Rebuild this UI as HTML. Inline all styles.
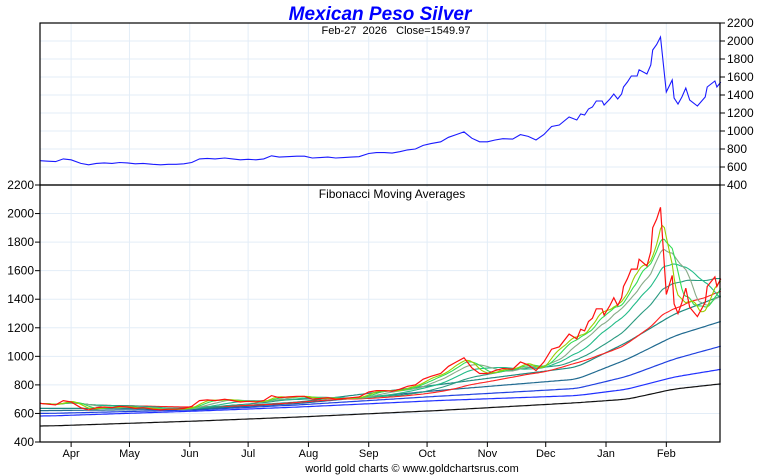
<!DOCTYPE html>
<html><head><meta charset="utf-8">
<style>
html,body{margin:0;padding:0;background:#fff;}
svg{display:block;font-family:"Liberation Sans",sans-serif;}
</style></head>
<body>
<svg id="chart" width="760" height="475" viewBox="0 0 760 475">
  <text x="380" y="20" text-anchor="middle" font-size="19" font-weight="bold" font-style="italic" fill="#0000ff">Mexican Peso Silver</text>
  <g id="grid"></g>
  <g id="series"></g>
  <g id="axes"></g>
  <rect x="318" y="24" width="156" height="12" fill="#fff"/>
  <text x="396" y="34" text-anchor="middle" font-size="11" fill="#000" xml:space="preserve">Feb-27  2026   Close=1549.97</text>
  <rect x="314" y="187" width="158" height="14" fill="#fff"/>
  <text x="392" y="198" text-anchor="middle" font-size="12" fill="#000">Fibonacci Moving Averages</text>
  <text x="412" y="472" text-anchor="middle" font-size="11" fill="#000">world gold charts © www.goldchartsrus.com</text>
</svg>
<script>
// ---- data ----
const priceDays = [0,4,8,12,16,21,25,29,33,37,41,45,49,53,58,62,66,70,74,78,82,86,90,95,99,103,107,111,115,119,123,127,132,136,140,144,148,152,156,160,164,169,173,177,181,185,189,193,197,201,206,210,214,218,222,226,230,234,238,243,247,251,255,259,263,267,272,276,278,280,282,284,286,289,290,293,295,297,299,300,302,304,307,308,312,314,315,317,319,322,325,326,328,330,332,334,338,342,343,347,348,350];
const priceValues = [670,665,660,690,680,640,625,640,645,640,650,645,635,640,630,625,630,630,635,650,690,695,690,700,690,680,685,680,690,725,710,715,720,720,700,705,710,700,705,710,715,750,760,760,755,770,790,800,840,860,880,930,960,990,920,880,880,900,915,910,960,940,900,960,1050,1067,1156,1122,1189,1178,1244,1267,1333,1333,1289,1356,1411,1356,1411,1489,1544,1611,1611,1680,1633,1733,1900,1960,2044,1433,1567,1367,1300,1378,1478,1344,1278,1378,1489,1556,1489,1544];
const fastWindows = [7,11,18,29,48,77];
const fastColors = ["#9acd00","#33dd55","#88aa88","#22bb88","#2a9a80","#ff2020"];
const slowDays = [0,77,129,200,272,298,322,350];
const slowTeal = [635,635,680,800,925,1100,1296,1443];
const slowDarkTeal = [620,630,670,760,840,980,1142,1261];
const slowBlue1 = [600,625,660,720,775,860,981,1086];
const slowBlue2 = [582,617,645,690,725,770,855,918];
const slowBlack = [512,547,575,620,675,700,771,813];
const monthLabels = ["Apr","May","Jun","Jul","Aug","Sep","Oct","Nov","Dec","Jan","Feb"];
const monthDays = [16,46,77,107,138,169,199,230,260,291,322];
const yTicks = [400,600,800,1000,1200,1400,1600,1800,2000,2200];

// ---- scales ----
const X0=40, X1=720, D1=349.6;
const x = d => X0 + d*(X1-X0)/D1;
const yTop = v => 185 - (v-400)*(185-23)/1800;
const yBot = v => 442 - (v-400)*(442-185)/1800;
const NS="http://www.w3.org/2000/svg";
function mk(tag, attrs, parent){const e=document.createElementNS(NS,tag);for(const k in attrs)e.setAttribute(k,attrs[k]);parent.appendChild(e);return e;}
const grid=document.getElementById('grid'), series=document.getElementById('series'), axes=document.getElementById('axes');

monthDays.forEach(d=>{
  const g=mk('line',{x1:x(d),x2:x(d),y1:23,y2:442,stroke:'#e3edf7','stroke-width':1},grid);
  
  
});
yTicks.forEach(v=>{
  const a=mk('line',{x1:X0,x2:X1,y1:yTop(v),y2:yTop(v),stroke:'#e3edf7','stroke-width':1},grid);
  
  
  const b=mk('line',{x1:X0,x2:X1,y1:yBot(v),y2:yBot(v),stroke:'#e3edf7','stroke-width':1},grid);
  
  
});

function interp(days, vals){
  const out=[];
  for(let d=0; d<=days[days.length-1]; d++){
    let i=0; while(i<days.length-2 && days[i+1]<d) i++;
    const t=(d-days[i])/(days[i+1]-days[i]);
    out.push(vals[i]+(vals[i+1]-vals[i])*Math.max(0,Math.min(1,t)));
  }
  return out;
}
function sma(arr,w){
  return arr.map((_,i)=>{let s=0,n=0;for(let j=Math.max(0,i-w+1);j<=i;j++){s+=arr[j];n++;}return s/n;});
}
const daily = interp(priceDays, priceValues);
function pathDaily(arr, yf){return arr.map((v,i)=>(i?'L':'M')+x(i).toFixed(1)+','+yf(v).toFixed(1)).join(' ');}
function pathPts(days, vals, yf){return days.map((d,i)=>(i?'L':'M')+x(d).toFixed(1)+','+yf(vals[i]).toFixed(1)).join(' ');}

const slowSets=[[slowBlack,'#111','ma-610-black'],[slowBlue2,'#2030ff','ma-377-blue'],[slowBlue1,'#2040e0','ma-233-blue'],[slowDarkTeal,'#206a90','ma-144-dark-teal'],[slowTeal,'#1f8a80','ma-89-teal']];
slowSets.forEach(s=>{
  const p=mk('path',{d:pathDaily(sma(interp(slowDays,s[0]),9),yBot),fill:'none',stroke:s[1],'stroke-width':1.2},series);
  
  
});
for(let k=fastWindows.length-1;k>=0;k--){
  const p=mk('path',{d:pathDaily(sma(daily,fastWindows[k]),yBot),fill:'none',stroke:fastColors[k],'stroke-width':1.1},series);
  
  
}
const pl=mk('path',{d:pathPts(priceDays,priceValues,yBot),fill:'none',stroke:'#ff1010','stroke-width':1.2},series);


const pu=mk('path',{d:pathPts(priceDays,priceValues,yTop),fill:'none',stroke:'#1a1aff','stroke-width':1.1},series);



const f1=mk('rect',{x:X0,y:23,width:X1-X0,height:162,fill:'none',stroke:'#000','stroke-width':1.2},axes);


const f2=mk('rect',{x:X0,y:185,width:X1-X0,height:257,fill:'none',stroke:'#000','stroke-width':1.2},axes);



yTicks.forEach(v=>{
  mk('line',{x1:X1,x2:X1+5,y1:yTop(v),y2:yTop(v),stroke:'#000'},axes);
  const t=mk('text',{x:X1+7,y:yTop(v)+4,'font-size':12,fill:'#000'},axes);
  t.textContent=v;
  
  
  mk('line',{x1:X0-5,x2:X0,y1:yBot(v),y2:yBot(v),stroke:'#000'},axes);
  const u=mk('text',{x:X0-6,y:yBot(v)+4,'font-size':12,fill:'#000','text-anchor':'end'},axes);
  u.textContent=v;
  
  
});
monthDays.forEach((d,i)=>{
  mk('line',{x1:x(d),x2:x(d),y1:442,y2:447,stroke:'#000'},axes);
  const t=mk('text',{x:x(d),y:457,'font-size':11,fill:'#000','text-anchor':'middle'},axes);
  t.textContent=monthLabels[i];
  
  
});
</script>
</body></html>
